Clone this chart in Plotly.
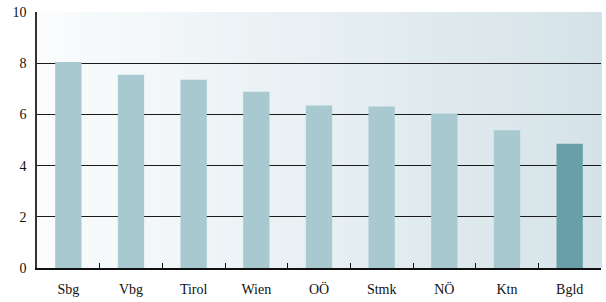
import plotly.graph_objects as go

categories = ["Sbg", "Vbg", "Tirol", "Wien", "OÖ", "Stmk", "NÖ", "Ktn", "Bgld"]
values = [8.05, 7.55, 7.35, 6.88, 6.35, 6.31, 6.04, 5.38, 4.85]
bar_colors = ["#a8c9d0"] * 8 + ["#699fa9"]
y_ticks = [0, 2, 4, 6, 8, 10]

fig = go.Figure()
fig.add_trace(go.Bar(x=categories, y=values, marker=dict(color=bar_colors, line=dict(width=0)),
                     width=0.42))

# gradient background via strips
n = 80
c0 = (250, 252, 253)
c1 = (213, 227, 232)
shapes = []
for i in range(n):
    t = i / (n - 1)
    col = tuple(round(c0[k] + (c1[k] - c0[k]) * t) for k in range(3))
    shapes.append(dict(type="rect", xref="paper", yref="paper", x0=i / n, x1=(i + 1) / n + 0.002,
                       y0=0, y1=1, fillcolor="rgb(%d,%d,%d)" % col, line=dict(width=0), layer="below"))

fig.update_layout(
    width=606, height=302,
    margin=dict(l=37, r=5, t=11, b=31),
    paper_bgcolor="white", plot_bgcolor="rgba(0,0,0,0)",
    shapes=shapes,
    showlegend=False,
    font=dict(family="Liberation Serif, Times New Roman, serif", size=14, color="#111"),
    xaxis=dict(showline=True, linecolor="#111", linewidth=1.5, ticks="inside", tickson="boundaries",
               ticklen=5, tickcolor="#111", showgrid=False, ticklabelstandoff=7),
    yaxis=dict(range=[0, 10], tickvals=y_ticks, showline=True, linecolor="#333", linewidth=1.5,
               showgrid=True, gridcolor="#1a1a1a", gridwidth=1, zeroline=False, ticks="", ticklen=0,
               ticklabelstandoff=6),
)
fig.write_html("out.html", config={"displayModeBar": False},
               post_script="document.body.style.margin='0';document.body.style.overflow='hidden';")
